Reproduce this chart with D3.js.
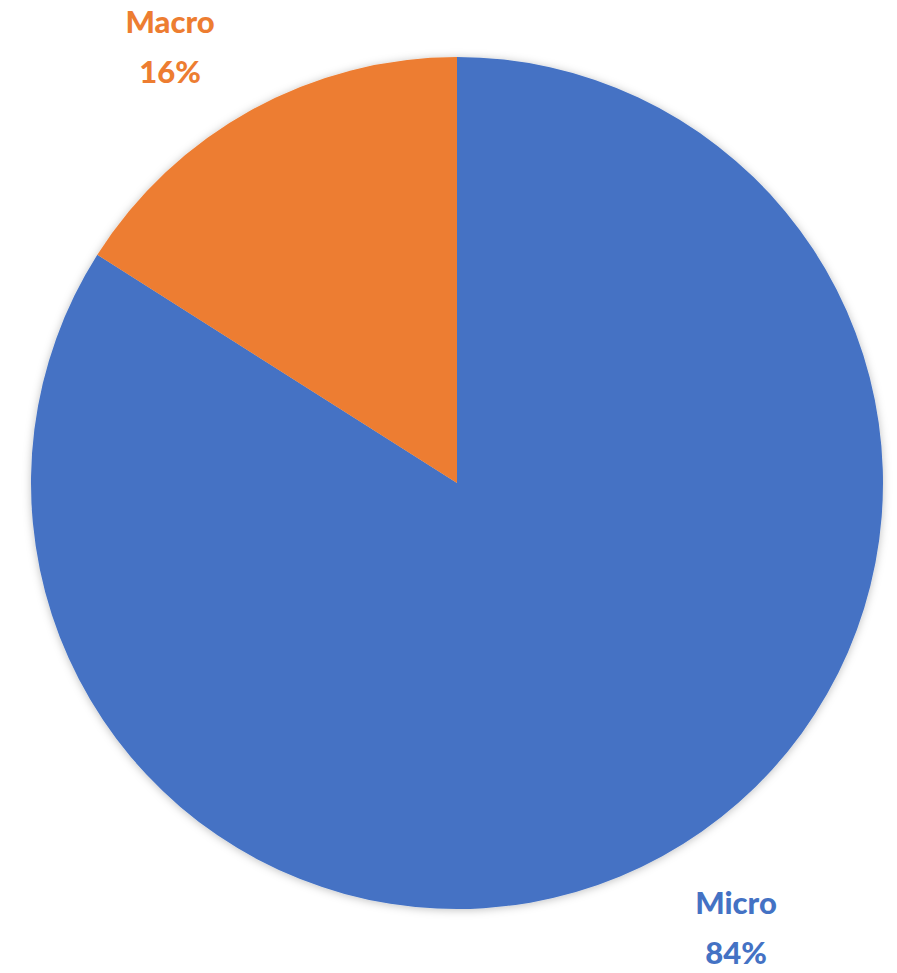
<!DOCTYPE html>
<html>
<head>
<meta charset="utf-8">
<script src="https://cdn.jsdelivr.net/npm/d3@7"></script>
<style>
  body { margin: 0; background: #fff; }
  svg { display: block; }
</style>
</head>
<body>
<svg id="chart" width="897" height="973"></svg>
<script>
const categories = ['Micro', 'Macro'];
const shares = [84, 16];
const colors = ['#4472C4', '#ED7D31'];

const svg = d3.select('#chart');
const cx = 457, cy = 483, radius = 426;

const defs = svg.append('defs');
const shadow = defs.append('filter')
    .attr('id', 'pie-shadow')
    .attr('x', '-10%').attr('y', '-10%')
    .attr('width', '120%').attr('height', '120%');
shadow.append('feDropShadow')
    .attr('dx', 0).attr('dy', 1)
    .attr('stdDeviation', 4)
    .attr('flood-color', '#000')
    .attr('flood-opacity', 0.25);

const pie = d3.pie().sort(null).value(d => d.value);
const arc = d3.arc().innerRadius(0).outerRadius(radius);
const data = categories.map((c, i) => ({name: c, value: shares[i], color: colors[i]}));

const g = svg.append('g')
    .attr('transform', `translate(${cx},${cy})`)
    .attr('filter', 'url(#pie-shadow)');

g.selectAll('path')
  .data(pie(data))
  .join('path')
    .attr('d', arc)
    .attr('fill', d => d.data.color);

// label positions, relative to the pie centre
const labelPos = {
    Micro: [279, 431],
    Macro: [-287, -450]
};

const labels = svg.append('g')
    .attr('transform', `translate(${cx},${cy})`)
    .attr('font-family', 'Lato, "Open Sans", sans-serif')
    .attr('font-weight', 900)
    .attr('font-size', 31)
    .attr('text-anchor', 'middle');

labels.selectAll('text')
  .data(data)
  .join('text')
    .attr('fill', d => d.color)
    .attr('transform', d => `translate(${labelPos[d.name][0]},${labelPos[d.name][1]})`)
    .each(function(d) {
        const t = d3.select(this);
        t.append('tspan').attr('x', 0).attr('y', 0).text(d.name);
        t.append('tspan').attr('x', 0).attr('y', 50).text(`${d.value}%`);
    });
</script>
</body>
</html>
